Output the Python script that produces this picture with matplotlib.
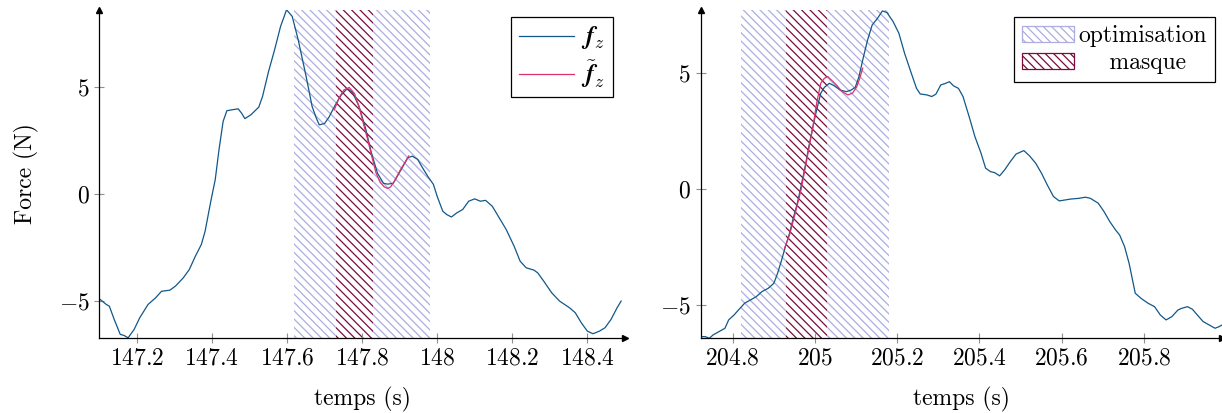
import matplotlib
matplotlib.use("Agg")
import matplotlib.pyplot as plt
import numpy as np
from matplotlib.ticker import FuncFormatter

# %%
# Left window: measured force f_z and reconstruction
t_left = [147.103, 147.119, 147.127, 147.14, 147.156, 147.166, 147.177, 147.193,
          147.208, 147.23, 147.25, 147.266, 147.288, 147.303, 147.324, 147.34,
          147.356, 147.372, 147.382, 147.398, 147.409, 147.419, 147.43, 147.44,
          147.456, 147.47, 147.479, 147.488, 147.504, 147.525, 147.535, 147.551,
          147.567, 147.583, 147.599, 147.614, 147.63, 147.651, 147.667, 147.678,
          147.686, 147.7, 147.712, 147.728, 147.745, 147.761, 147.775, 147.792,
          147.809, 147.825, 147.841, 147.857, 147.868, 147.883, 147.904, 147.922,
          147.934, 147.948, 147.962, 147.976, 147.99, 148.0, 148.015, 148.026,
          148.038, 148.052, 148.068, 148.084, 148.1, 148.115, 148.129, 148.147,
          148.163, 148.184, 148.205, 148.221, 148.237, 148.258, 148.268, 148.284,
          148.305, 148.326, 148.353, 148.368, 148.384, 148.4, 148.415, 148.432,
          148.447, 148.463, 148.479, 148.49]
f_left = [-4.95, -5.18, -5.26, -5.88, -6.58, -6.63, -6.74, -6.35,
          -5.80, -5.18, -4.87, -4.56, -4.51, -4.32, -3.93, -3.54,
          -2.92, -2.37, -1.75, -0.27, 0.67, 2.07, 3.40, 3.90,
          3.95, 3.99, 3.79, 3.53, 3.71, 4.07, 4.57, 5.74,
          6.75, 7.85, 8.63, 8.32, 7.22, 5.51, 4.10, 3.56,
          3.24, 3.30, 3.60, 4.15, 4.65, 4.94, 4.75, 4.10,
          3.10, 1.92, 0.98, 0.50, 0.46, 0.50, 1.14, 1.70,
          1.77, 1.62, 1.20, 0.80, 0.45, -0.11, -0.81, -0.97,
          -1.08, -0.89, -0.73, -0.34, -0.23, -0.34, -0.30, -0.58,
          -1.05, -1.67, -2.45, -3.15, -3.46, -3.57, -3.70, -4.09,
          -4.63, -5.02, -5.34, -5.57, -6.04, -6.43, -6.55, -6.43,
          -6.27, -5.88, -5.34, -5.02]
t_left_rec = [147.726, 147.74, 147.752, 147.766, 147.78, 147.792, 147.805, 147.815,
              147.826, 147.837, 147.848, 147.859, 147.868, 147.876, 147.887,
              147.903, 147.915, 147.924]
f_left_rec = [3.94, 4.55, 4.88, 4.99, 4.70, 4.09, 3.20, 2.55,
              1.75, 1.00, 0.55, 0.33, 0.26, 0.33, 0.62,
              1.16, 1.50, 1.78]

# Right window
t_right = [204.722, 204.733, 204.743, 204.752, 204.767, 204.781, 204.79, 204.803,
           204.814, 204.829, 204.843, 204.857, 204.871, 204.886, 204.9, 204.909,
           204.919, 204.928, 204.938, 204.947, 204.957, 204.966, 204.976, 204.985,
           204.995, 205.004, 205.014, 205.023, 205.035, 205.047, 205.061, 205.076,
           205.088, 205.098, 205.107, 205.118, 205.128, 205.139, 205.152, 205.164,
           205.175, 205.19, 205.204, 205.218, 205.233, 205.247, 205.256, 205.272,
           205.284, 205.294, 205.306, 205.318, 205.327, 205.337, 205.349, 205.36,
           205.375, 205.389, 205.404, 205.415, 205.427, 205.437, 205.449, 205.461,
           205.475, 205.489, 205.508, 205.522, 205.537, 205.551, 205.565, 205.58,
           205.594, 205.608, 205.622, 205.641, 205.658, 205.67, 205.689, 205.703,
           205.717, 205.731, 205.741, 205.753, 205.764, 205.779, 205.793, 205.81,
           205.826, 205.84, 205.854, 205.868, 205.883, 205.892, 205.906, 205.918,
           205.93, 205.944, 205.959, 205.973, 205.983, 205.99]
f_right = [-6.38, -6.38, -6.45, -6.31, -6.16, -6.02, -5.66, -5.45,
           -5.23, -4.94, -4.80, -4.66, -4.44, -4.30, -4.08, -3.65,
           -3.07, -2.50, -1.93, -1.28, -0.63, 0.09, 0.95, 1.81,
           2.67, 3.39, 4.11, 4.37, 4.54, 4.43, 4.25, 4.18,
           4.25, 4.37, 4.83, 5.69, 6.41, 7.05, 7.34, 7.66,
           7.59, 7.20, 6.70, 5.83, 5.04, 4.32, 4.08, 4.04,
           3.97, 4.07, 4.47, 4.54, 4.61, 4.43, 4.32, 3.97,
           3.10, 2.24, 1.52, 0.88, 0.73, 0.69, 0.55, 0.80,
           1.16, 1.49, 1.64, 1.41, 1.09, 0.66, 0.16, -0.34,
           -0.53, -0.49, -0.45, -0.42, -0.37, -0.42, -0.63, -0.99,
           -1.42, -1.78, -2.00, -2.50, -3.22, -4.51, -4.73, -4.94,
           -5.09, -5.45, -5.66, -5.52, -5.23, -5.16, -5.09, -5.20,
           -5.45, -5.73, -5.88, -6.02, -5.95, -5.88]
t_right_rec = [204.926, 204.938, 204.952, 204.966, 204.98, 204.995, 205.004, 205.014,
               205.023, 205.031, 205.04, 205.052, 205.066, 205.08, 205.091,
               205.101, 205.109, 205.116]
f_right_rec = [-2.57, -2.0, -1.06, -0.06, 1.24, 2.67, 3.68, 4.54,
               4.76, 4.83, 4.68, 4.47, 4.18, 4.04, 4.11,
               4.37, 4.76, 5.19]

# optimisation / mask windows (s)
opt_left = (147.62, 147.98)
mask_left = (147.73, 147.83)
opt_right = (204.82, 205.18)
mask_right = (204.93, 205.03)

xticks_left = [147.2, 147.4, 147.6, 147.8, 148.0, 148.2, 148.4]
xticks_right = [204.8, 205.0, 205.2, 205.4, 205.6, 205.8]
yticks = [-5, 0, 5]

# %%
plt.rcParams["font.family"] = "serif"
plt.rcParams["font.serif"] = ["cmr10", "DejaVu Serif"]
plt.rcParams["mathtext.fontset"] = "cm"
plt.rcParams["axes.formatter.use_mathtext"] = True
plt.rcParams["font.size"] = 17
plt.rcParams["hatch.linewidth"] = 0.9

c_f = "#10588a"
c_rec = "#e0306a"
c_opt = "#adade2"
c_mask = "#7a0c3c"
hatch = "\\\\\\\\"

fmt = FuncFormatter(lambda v, p: f"${v:g}$")

fig = plt.figure(figsize=(12.22, 4.13), dpi=100)
ax1 = fig.add_axes([99.2 / 1222, 75 / 413, 525.7 / 1222, 328 / 413])
ax2 = fig.add_axes([700.7 / 1222, 75 / 413, 521.3 / 1222, 328 / 413])


def style(ax):
    for s in ["top", "right"]:
        ax.spines[s].set_visible(False)
    for s in ["left", "bottom"]:
        ax.spines[s].set_linewidth(0.9)
    ax.tick_params(direction="inout", length=7, width=0.8, color="#909090",
                   labelsize=17)
    ax.xaxis.set_major_formatter(fmt)
    ax.yaxis.set_major_formatter(fmt)
    ax.set_yticks(yticks)
    ax.plot(1, 0, ">k", ms=5, transform=ax.transAxes, clip_on=False)
    ax.plot(0, 1, "^k", ms=5, transform=ax.transAxes, clip_on=False)
    ax.set_xlabel("temps (s)", labelpad=12)


for ax, t, f, tr, fr, opt, msk in [
    (ax1, t_left, f_left, t_left_rec, f_left_rec, opt_left, mask_left),
    (ax2, t_right, f_right, t_right_rec, f_right_rec, opt_right, mask_right),
]:
    ax.axvspan(*opt, facecolor="none", edgecolor=c_opt, hatch=hatch,
               linewidth=0, label="optimisation")
    ax.axvspan(*msk, facecolor="white", edgecolor=c_mask, hatch=hatch,
               linewidth=0, label="    masque")
    ax.plot(t, f, color=c_f, lw=0.9, label=r"$\boldsymbol{f}_z$")
    ax.plot(tr, fr, color=c_rec, lw=0.9, label=r"$\tilde{\boldsymbol{f}}_z$")
    style(ax)

ax1.set_xlim(147.1, 148.5)
ax1.set_ylim(-6.75, 8.62)
ax1.set_xticks(xticks_left)
ax1.set_ylabel("Force (N)", labelpad=14)

ax2.set_xlim(204.722, 205.99)
ax2.set_ylim(-6.44, 7.70)
ax2.set_xticks(xticks_right)

h1, l1 = ax1.get_legend_handles_labels()
leg1 = ax1.legend(h1[2:], l1[2:], loc="upper right", bbox_to_anchor=(0.977, 0.979),
                  borderaxespad=0, fancybox=False, edgecolor="black",
                  framealpha=1, fontsize=18, handlelength=2.2,
                  handletextpad=0.3, borderpad=0.3, labelspacing=0.25)
leg1.get_frame().set_linewidth(0.9)

h2, l2 = ax2.get_legend_handles_labels()
leg2 = ax2.legend(h2[:2], l2[:2], loc="upper right", bbox_to_anchor=(0.987, 0.979),
                  borderaxespad=0, fancybox=False, edgecolor="black",
                  framealpha=1, handlelength=2.2, handletextpad=0.2,
                  borderpad=0.35, labelspacing=0.2)
leg2.get_frame().set_linewidth(0.9)
for p in leg2.get_patches():
    p.set_linewidth(0.9)

fig.savefig("out.png", dpi=100)
